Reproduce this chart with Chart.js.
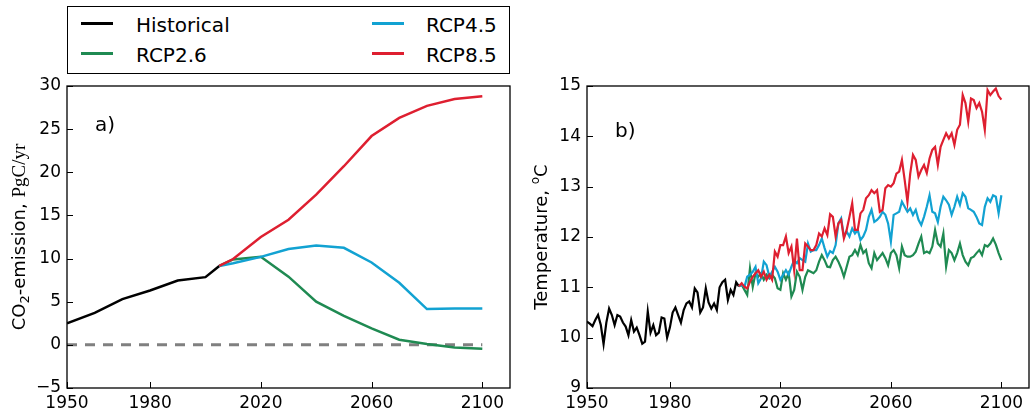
<!DOCTYPE html>
<html>
<head>
<meta charset="utf-8">
<script src="https://cdn.jsdelivr.net/npm/chart.js@4.4.0/dist/chart.umd.min.js"></script>
<style>
  body { margin: 0; width: 1031px; height: 413px; background: #fff; position: relative; overflow: hidden; font-family: "DejaVu Sans", sans-serif; }
  canvas { position: absolute; top: 0; }
  #chartA { left: 0; }
  #chartB { left: 520px; }
  .legend-box { position: absolute; left: 67px; top: 6px; width: 441px; height: 66px; border: 1.5px solid #000; background: #fff; }
  .swatch { position: absolute; width: 32px; height: 2.5px; }
  .label { position: absolute; font-size: 20px; line-height: 20px; color: #000; white-space: nowrap; }
</style>
</head>
<body>
<canvas id="chartA" width="520" height="413"></canvas>
<canvas id="chartB" width="511" height="413"></canvas>

<div class="legend-box"></div>
<div class="swatch" style="left:81px; top:22px; background:#000;"></div>
<div class="label" style="left:136px; top:15px;">Historical</div>
<div class="swatch" style="left:81px; top:52px; background:#1f8a52;"></div>
<div class="label" style="left:136px; top:45px;">RCP2.6</div>
<div class="swatch" style="left:372px; top:22px; background:#12a2d2;"></div>
<div class="label" style="left:426px; top:15px;">RCP4.5</div>
<div class="swatch" style="left:372px; top:52px; background:#de1f30;"></div>
<div class="label" style="left:426px; top:45px;">RCP8.5</div>

<script>
// 색상
const colHist = '#000000';
const col26 = '#1f8a52';
const col45 = '#12a2d2';
const col85 = '#de1f30';

// a) CO2 배출량 (PgC/yr)
const emisHistYears = [1950, 1960, 1970, 1980, 1990, 2000, 2005];
const emisHist = [2.5, 3.7, 5.3, 6.3, 7.45, 7.85, 9.15];
const emisRcpYears = [2005, 2010, 2020, 2030, 2040, 2050, 2060, 2070, 2080, 2090, 2100];
const emisRcp26 = [9.15, 9.9, 10.2, 7.9, 5.0, 3.35, 1.9, 0.6, 0.1, -0.3, -0.45];
const emisRcp45 = [9.15, 9.45, 10.2, 11.1, 11.5, 11.25, 9.55, 7.2, 4.15, 4.2, 4.2];
const emisRcp85 = [9.15, 9.95, 12.5, 14.5, 17.4, 20.7, 24.2, 26.3, 27.7, 28.5, 28.8];
const zeroYears = [1950, 2100];
const zeroLine = [0, 0];

// b) 기온 (°C), 연도별
const tempHistStart = 1950;
const tempHist = [
  10.32, 10.28, 10.23, 10.35, 10.45, 10.25, 9.87, 10.3, 10.58, 10.45,
  10.25, 10.45, 10.42, 10.3, 10.22, 10.05, 10.35, 10.12, 10.2, 10.05,
  9.88, 9.92, 10.52, 10.1, 10.25, 10.05, 10.1, 10.4, 10.38, 10.0,
  10.2, 10.5, 10.6, 10.45, 10.3, 10.55, 10.68, 10.72, 10.6, 10.98,
  10.9, 10.5, 10.6, 10.98, 10.7, 10.58, 10.68, 10.55, 11.0, 11.1,
  11.15, 10.75, 10.95, 10.85, 11.1, 11.02
];
const tempRcpStart = 2005;
const tempRcp26 = [
  11.02, 11.05, 10.95, 10.85, 11.38, 11.01, 11.28, 11.21, 11.28, 11.15,
  11.25, 11.18, 11.25, 11.18, 10.98, 10.95, 11.28, 11.15, 11.28, 10.82,
  10.95, 11.31, 11.21, 10.95, 11.21, 11.34, 11.31, 11.28, 11.34, 11.51,
  11.64, 11.54, 11.41, 11.40, 11.54, 11.61, 11.51, 11.38, 11.21, 11.41,
  11.61, 11.64, 11.74, 11.64, 11.84, 11.68, 11.74, 11.48, 11.38, 11.68,
  11.54, 11.61, 11.68, 11.58, 11.44, 11.68, 11.74, 11.64, 11.38, 11.81,
  11.64, 11.61, 11.61, 11.64, 11.71, 11.87, 12.01, 11.68, 11.71, 11.68,
  11.81, 12.14, 11.87, 11.81, 12.07, 11.41, 11.74, 11.68, 11.54, 11.68,
  11.87, 11.64, 11.51, 11.44, 11.58, 11.61, 11.68, 11.74, 11.64, 11.84,
  11.81, 11.87, 11.97, 11.85, 11.68, 11.54
];
const tempRcp45 = [
  11.02, 11.05, 11.01, 11.21, 11.25, 11.31, 11.41, 11.08, 11.18, 11.51,
  11.44, 11.21, 11.31, 11.41, 11.31, 11.15, 11.25, 11.34, 11.25, 11.41,
  11.54, 11.48, 11.58, 11.54, 11.51, 11.87, 11.71, 11.74, 11.74, 11.84,
  11.97, 11.78, 11.61, 11.72, 11.68, 11.84, 12.27, 12.37, 12.01, 12.11,
  12.01, 12.17, 12.07, 12.14, 11.94, 12.01, 12.14, 12.40, 12.54, 12.30,
  12.34, 12.40, 12.50, 12.44, 12.27, 11.91, 12.44, 12.47, 12.50, 12.70,
  12.60, 12.50, 12.57, 12.44, 12.54, 12.34, 12.24, 12.40, 12.60, 12.83,
  12.50, 12.47, 12.30, 12.60, 12.80, 12.73, 12.64, 12.44, 12.60, 12.80,
  12.64, 12.87, 12.80, 12.57, 12.54, 12.50, 12.40, 12.27, 12.24, 12.60,
  12.77, 12.70, 12.83, 12.80, 12.47, 12.83
];
const tempRcp85 = [
  11.02, 11.08, 11.01, 10.98, 11.11, 11.21, 11.28, 11.34, 11.21, 11.31,
  11.15, 11.25, 11.15, 11.71, 11.61, 11.84, 11.84, 12.01, 11.68, 11.81,
  11.34, 11.97, 11.34, 11.34, 11.87, 11.81, 11.74, 11.74, 11.84, 12.07,
  12.01, 12.17, 12.04, 12.45, 12.40, 12.01, 12.27, 12.34, 11.97, 12.14,
  12.40, 12.67, 12.14, 12.14, 12.47, 12.54, 12.77, 12.83, 12.93, 12.87,
  12.93, 12.50, 12.54, 12.97, 13.03, 13.00, 13.07, 13.26, 13.30, 13.53,
  13.13, 12.70, 13.26, 13.63, 13.53, 13.20, 13.33, 13.43, 13.27, 13.56,
  13.73, 13.79, 13.43, 13.79, 13.93, 14.06, 13.96, 14.06, 13.83, 14.13,
  14.23, 14.82, 14.66, 14.29, 14.75, 14.72, 14.56, 14.66, 14.49, 14.13,
  14.92, 14.82, 14.89, 14.95, 14.80, 14.73
];

// 축 눈금
const xTickYears = [1950, 1980, 2020, 2060, 2100];

Chart.defaults.font.family = '"DejaVu Sans", sans-serif';
Chart.defaults.font.size = 17;
Chart.defaults.color = '#000';

function pairs(xs, ys) {
  return ys.map((v, i) => ({ x: xs[i], y: v }));
}
function yearly(start, ys) {
  return ys.map((v, i) => ({ x: start + i, y: v }));
}
function lineSet(label, data, color, order, extra) {
  return Object.assign({
    label: label,
    data: data,
    borderColor: color,
    borderWidth: 2.5,
    pointRadius: 0,
    tension: 0,
    fill: false,
    order: order
  }, extra || {});
}

// 테두리와 안쪽 눈금 (아래/왼쪽만)
const frameTicks = {
  id: 'frameTicks',
  afterDraw(chart) {
    const { ctx, chartArea: a, scales } = chart;
    ctx.save();
    ctx.strokeStyle = '#000';
    ctx.lineWidth = 1.3;
    ctx.strokeRect(a.left, a.top, a.right - a.left, a.bottom - a.top);
    ctx.lineWidth = 1;
    ctx.beginPath();
    scales.x.ticks.forEach(t => {
      const px = Math.round(scales.x.getPixelForValue(t.value)) + 0.5;
      ctx.moveTo(px, a.bottom); ctx.lineTo(px, a.bottom - 6);
    });
    scales.y.ticks.forEach(t => {
      const py = Math.round(scales.y.getPixelForValue(t.value)) + 0.5;
      ctx.moveTo(a.left, py); ctx.lineTo(a.left + 6, py);
    });
    ctx.stroke();
    ctx.restore();
  }
};

// 패널 라벨과 y축 제목
function decor(label, lx, ly, parts, titleX) {
  return {
    id: 'decor',
    afterDraw(chart) {
      const ctx = chart.ctx;
      const a = chart.chartArea;
      ctx.save();
      ctx.fillStyle = '#000';
      ctx.textBaseline = 'alphabetic';
      ctx.font = '20px "DejaVu Sans"';
      ctx.fillText(label, lx, ly);
      ctx.translate(titleX, (a.top + a.bottom) / 2);
      ctx.rotate(-Math.PI / 2);
      let total = 0;
      parts.forEach(p => { ctx.font = p.font; total += ctx.measureText(p.text).width; });
      let x = -total / 2;
      parts.forEach(p => {
        ctx.font = p.font;
        ctx.fillText(p.text, x, p.dy || 0);
        x += ctx.measureText(p.text).width;
      });
      ctx.restore();
    }
  };
}

function axes(yMin, yMax, yStep) {
  return {
    x: {
      type: 'linear',
      min: 1950,
      max: 2110,
      afterBuildTicks: s => { s.ticks = xTickYears.map(v => ({ value: v })); },
      afterFit: s => { s.height = 25; },
      grid: { display: false, drawTicks: false },
      border: { display: false },
      ticks: { padding: 5, maxRotation: 0, autoSkip: false, callback: v => String(v) }
    },
    y: {
      min: yMin,
      max: yMax,
      afterFit: s => { s.width = 67; },
      grid: { display: false, drawTicks: false },
      border: { display: false },
      ticks: {
        stepSize: yStep,
        padding: 6,
        callback: v => (v < 0 ? '\u2212' + Math.abs(v) : String(v))
      }
    }
  };
}

function createEmissionChart() {
  new Chart(document.getElementById('chartA'), {
    type: 'line',
    data: {
      datasets: [
        lineSet('zero', pairs(zeroYears, zeroLine), '#808080', 5, { borderDash: [10, 8], borderWidth: 3 }),
        lineSet('Historical', pairs(emisHistYears, emisHist), colHist, 3),
        lineSet('RCP2.6', pairs(emisRcpYears, emisRcp26), col26, 2),
        lineSet('RCP4.5', pairs(emisRcpYears, emisRcp45), col45, 1),
        lineSet('RCP8.5', pairs(emisRcpYears, emisRcp85), col85, 0)
      ]
    },
    options: {
      responsive: false,
      animation: false,
      layout: { padding: { top: 86, right: 10, left: 0, bottom: 0 } },
      plugins: { legend: { display: false }, tooltip: { enabled: false } },
      scales: axes(-5, 30, 5)
    },
    plugins: [frameTicks, decor('a)', 95, 131, [
      { text: 'CO', font: '18px "DejaVu Sans"' },
      { text: '2', font: '13px "DejaVu Sans"', dy: 4 },
      { text: '-emission, ', font: '18px "DejaVu Sans"' },
      { text: 'PgC/yr', font: '19px "Liberation Serif"' }
    ], 25)]
  });
}

function createTemperatureChart() {
  new Chart(document.getElementById('chartB'), {
    type: 'line',
    data: {
      datasets: [
        lineSet('Historical', yearly(tempHistStart, tempHist), colHist, 3, { borderWidth: 2.2 }),
        lineSet('RCP2.6', yearly(tempRcpStart, tempRcp26), col26, 2, { borderWidth: 2.2 }),
        lineSet('RCP4.5', yearly(tempRcpStart, tempRcp45), col45, 1, { borderWidth: 2.2 }),
        lineSet('RCP8.5', yearly(tempRcpStart, tempRcp85), col85, 0, { borderWidth: 2.2 })
      ]
    },
    options: {
      responsive: false,
      animation: false,
      layout: { padding: { top: 86, right: 2, left: 0, bottom: 0 } },
      plugins: { legend: { display: false }, tooltip: { enabled: false } },
      scales: axes(9, 15, 1)
    },
    plugins: [frameTicks, decor('b)', 95, 137, [
      { text: 'Temperature, ', font: '18px "DejaVu Sans"' },
      { text: 'o', font: '12px "DejaVu Sans"', dy: -8 },
      { text: 'C', font: '18px "DejaVu Sans"' }
    ], 27)]
  });
}

createEmissionChart();
createTemperatureChart();
</script>
</body>
</html>
